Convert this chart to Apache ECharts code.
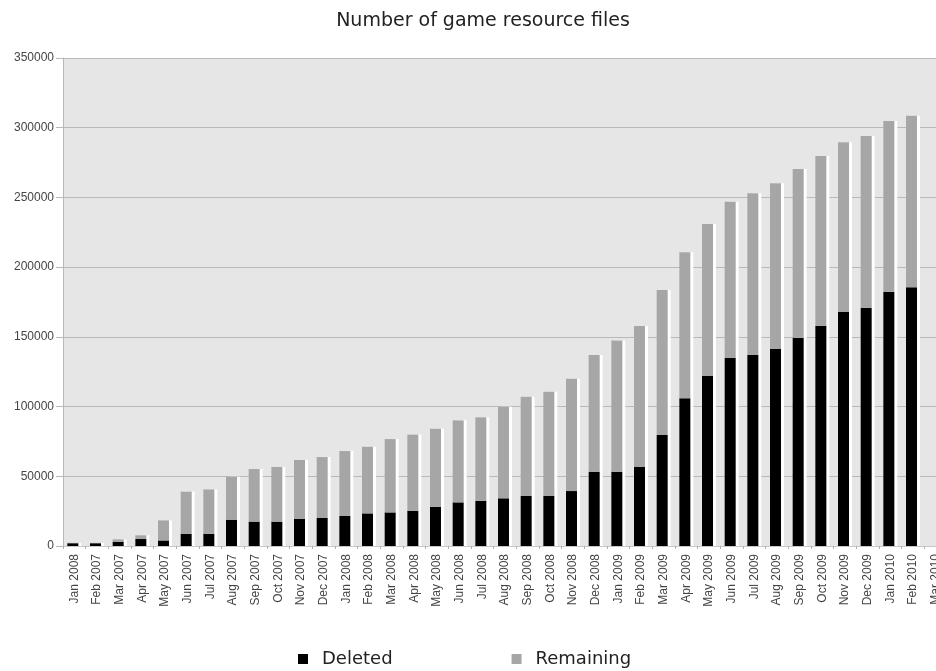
<!DOCTYPE html>
<html>
<head>
<meta charset="utf-8">
<title>Number of game resource files</title>
<script src="https://cdn.jsdelivr.net/npm/echarts@6/dist/echarts.min.js"></script>
<style>
  html, body { margin: 0; padding: 0; background: #fff; }
  #chart { width: 936px; height: 671px; }
</style>
</head>
<body>
<div id="chart"></div>
<script>
// month labels as printed on the original (first one really says Jan 2008)
const months = [
  `Jan 2008`, `Feb 2007`, `Mar 2007`, `Apr 2007`, `May 2007`, `Jun 2007`, `Jul 2007`,
  `Aug 2007`, `Sep 2007`, `Oct 2007`, `Nov 2007`, `Dec 2007`, `Jan 2008`, `Feb 2008`,
  `Mar 2008`, `Apr 2008`, `May 2008`, `Jun 2008`, `Jul 2008`, `Aug 2008`, `Sep 2008`,
  `Oct 2008`, `Nov 2008`, `Dec 2008`, `Jan 2009`, `Feb 2009`, `Mar 2009`, `Apr 2009`,
  `May 2009`, `Jun 2009`, `Jul 2009`, `Aug 2009`, `Sep 2009`, `Oct 2009`, `Nov 2009`,
  `Dec 2009`, `Jan 2010`, `Feb 2010`, `Mar 2010`
];

const deleted = [
  2000, 2000, 3100, 5000, 4000, 8800, 8800, 18900, 17500, 17500, 19600, 20100, 21500,
  23400, 24100, 25300, 28000, 31300, 32300, 34200, 35900, 36100, 39400, 53300, 53300,
  56900, 79600, 105900, 121900, 135100, 137000, 141300, 149400, 158000, 167800, 170900,
  182400, 185500, null
];

const remaining = [
  300, 300, 1700, 2700, 14400, 30200, 31800, 30800, 37700, 39200, 42100, 43700, 46600,
  47800, 52600, 54600, 56100, 58800, 60000, 65700, 71200, 74600, 80600, 83700, 94000,
  100900, 104000, 104700, 109000, 111800, 116000, 118800, 121000, 121700, 121700, 123200,
  122400, 123100, null
];

const yTicks = [0, 50000, 100000, 150000, 200000, 250000, 300000, 350000];

// white "shadow" strip behind each column = column total
const totals = deleted.map((d, i) => (d == null ? null : d + remaining[i]));

const chart = echarts.init(document.getElementById(`chart`));

let option = {
  animation: false,
  backgroundColor: `#ffffff`,
  title: {
    text: `Number of game resource files`,
    left: 478,
    top: 7,
    textAlign: `center`,
    textStyle: {
      fontFamily: `DejaVu Sans`,
      fontSize: 19,
      fontWeight: `normal`,
      color: `#222`
    }
  },
  legend: {
    data: [`Deleted`, `Remaining`],
    left: 293,
    top: 645,
    icon: `rect`,
    itemWidth: 10,
    itemHeight: 10,
    itemGap: 119,
    textStyle: {
      fontFamily: `DejaVu Sans`,
      fontSize: 18,
      color: `#222`,
      padding: [0, 0, 0, 9]
    }
  },
  grid: {
    left: 63,
    width: 884,
    top: 58,
    bottom: 125,
    outerBoundsMode: `none`,
    containLabel: false,
    show: true,
    backgroundColor: `#e6e6e6`,
    borderWidth: 0
  },
  xAxis: {
    type: `category`,
    data: months,
    axisLine: { show: true, lineStyle: { color: `#c8c8c8` } },
    axisTick: { show: true, length: 3, lineStyle: { color: `#b0b0b0` } },
    axisLabel: {
      rotate: 90,
      margin: 8,
      interval: 0,
      fontFamily: `Liberation Sans`,
      fontSize: 12,
      color: `#444`
    }
  },
  yAxis: {
    type: `value`,
    min: 0,
    max: yTicks[yTicks.length - 1],
    interval: yTicks[1] - yTicks[0],
    axisLine: { show: true, lineStyle: { color: `#b8b8b8` } },
    axisTick: { show: true, length: 7, lineStyle: { color: `#b8b8b8` } },
    splitLine: { lineStyle: { color: `#b9b9b9`, width: 1 } },
    axisLabel: {
      margin: 9,
      fontFamily: `Liberation Sans`,
      fontSize: 12,
      color: `#444`,
      formatter: function (v) { return String(v) }
    }
  },
  series: [
    {
      name: `Deleted`,
      type: `bar`,
      stack: `files`,
      barWidth: 11,
      barGap: `-73%`,
      z: 3,
      itemStyle: { color: `#000000` },
      data: deleted
    },
    {
      name: `Remaining`,
      type: `bar`,
      stack: `files`,
      barWidth: 11,
      z: 3,
      itemStyle: { color: `#a6a6a6` },
      data: remaining
    },
    {
      name: `shadow`,
      type: `bar`,
      barWidth: 11,
      z: 1,
      silent: true,
      itemStyle: { color: `#ffffff` },
      data: totals
    }
  ]
};
option && chart.setOption(option);
</script>
</body>
</html>
